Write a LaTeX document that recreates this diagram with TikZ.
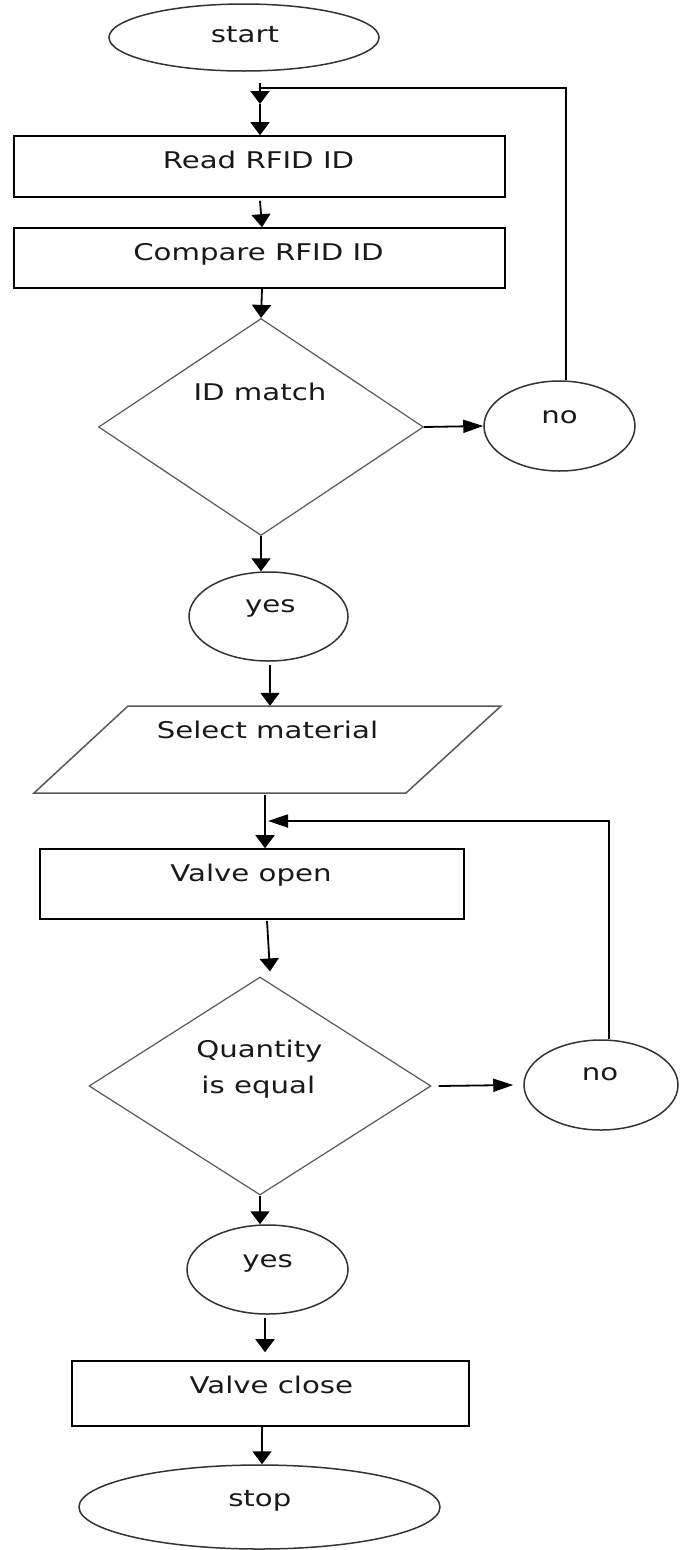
\documentclass[tikz,border=0pt]{standalone}
\usepackage{fontspec}
\setmainfont{DejaVu Sans}[FakeStretch=1.27]
\usetikzlibrary{shapes.geometric, arrows.meta, calc}
\begin{document}
\begin{tikzpicture}[x=1pt,y=-1pt,
  every node/.style={font=\fontsize{23}{28}\selectfont, text=black!90},
  txt/.style={anchor=base, inner sep=0pt},
  boxn/.style={draw=black, line width=1.6pt, rectangle, inner sep=0pt},
  ellip/.style={draw=black!80, line width=1.5pt, ellipse, inner sep=0pt},
  dia/.style={draw=black!65, line width=1.2pt, diamond, inner sep=0pt},
  para/.style={draw=black!65, line width=1.5pt, line join=miter},
  conn/.style={line width=1.8pt, draw=black},
  varr/.style={conn, -{Triangle[length=13pt,width=19pt]}},
  harr/.style={conn, -{Triangle[length=20pt,width=13pt]}},
]
\fill[white] (0,0) rectangle (681,1550);
\useasboundingbox (0,0) rectangle (681,1550);

% shapes
\node[ellip, minimum width=270pt, minimum height=67pt] (start) at (244,37.5) {};
\node[boxn, minimum width=491pt, minimum height=61pt] (read) at (259.5,166.5) {};
\node[boxn, minimum width=491pt, minimum height=60pt] (compare) at (259.5,258) {};
\node[dia, minimum width=325pt, minimum height=217pt] (d1) at (261,427) {};
\node[ellip, minimum width=151pt, minimum height=90pt] (no1) at (559.5,426) {};
\node[ellip, minimum width=159pt, minimum height=89pt] (yes1) at (268.5,616.5) {};
\node[inner sep=0pt, minimum width=280pt, minimum height=87pt] (sel) at (267.5,749.5) {};
\draw[para] (128,706) -- (501,706) -- (406,793) -- (34,793) -- cycle;
\node[boxn, minimum width=424pt, minimum height=70pt] (vopen) at (252,884) {};
\node[dia, minimum width=342pt, minimum height=218pt] (d2) at (260,1086) {};
\node[ellip, minimum width=154pt, minimum height=90pt] (no2) at (601,1085) {};
\node[ellip, minimum width=161pt, minimum height=89pt] (yes2) at (267.5,1269.5) {};
\node[boxn, minimum width=397pt, minimum height=65pt] (vclose) at (270.5,1393.5) {};
\node[ellip, minimum width=361pt, minimum height=84pt] (stop) at (259.5,1507) {};

% texts
\node[txt] (startt) at (245,42.7) {start};
\node[txt] (readt) at (258.5,168) {Read RFID ID};
\node[txt] (comparet) at (258.5,260) {Compare RFID ID};
\node[txt] (d1t) at (260,400.7) {ID match};
\node[txt] (no1t) at (559.6,423) {no};
\node[txt] (yes1t) at (270.3,612.7) {yes};
\node[txt] (selt) at (267.5,738.3) {Select material};
\node[txt] (vopent) at (251,881.7) {Valve open};
\node[txt] (d2ta) at (259.4,1057.3) {Quantity};
\node[txt] (d2tb) at (258.3,1093.3) {is equal};
\node[txt] (no2t) at (600,1080.7) {no};
\node[txt] (yes2t) at (267.5,1267.7) {yes};
\node[txt] (vcloset) at (271.4,1393.3) {Valve close};
\node[txt] (stopt) at (259.8,1506.7) {stop};

% junction coordinates
\coordinate (s1) at (260,83);
\coordinate (j1) at (260,88);
\coordinate (j1a) at (260,104);
\coordinate (fbA) at (566,88);
\coordinate (j2) at (265,821);
\coordinate (j2t) at (268,821);
\coordinate (fbB) at (609,821);

% connectors
\draw[varr] (s1) -- (j1a);
\draw[varr] (j1a) -- (read.north -| j1a);
\draw[conn] (no1.north -| fbA) -- (fbA) -- (j1);
\draw[varr] ([xshift=0.5pt,yshift=-3pt]read.south) -- ([xshift=2.5pt]compare.north);
\draw[varr] ([xshift=2.5pt]compare.south) -- (d1.north);
\draw[harr] (d1.east) -- (no1.west);
\draw[varr] (d1.south) -- (d1.south |- yes1.north);
\draw[varr] ([xshift=1.5pt,yshift=-3pt]yes1.south) -- ([xshift=2.5pt]sel.north);
\draw[varr] ([xshift=-2.5pt,yshift=-2pt]sel.south) -- (vopen.north -| j2);
\draw[harr] (no2.north -| fbB) -- (fbB) -- (j2t);
\draw[varr] ([xshift=15pt,yshift=-1pt]vopen.south) -- ([xshift=10pt,yshift=5pt]d2.north);
\draw[harr] ([xshift=7pt]d2.east) -- ([xshift=-10pt]no2.west);
\draw[varr] (d2.south) -- (d2.south |- yes2.north);
\draw[varr] ([xshift=-2.5pt,yshift=-3.5pt]yes2.south) -- ([xshift=-5.5pt,yshift=8pt]vclose.north);
\draw[varr] ([xshift=-8.5pt]vclose.south) -- ([xshift=2.5pt]stop.north);
\end{tikzpicture}
\end{document}
